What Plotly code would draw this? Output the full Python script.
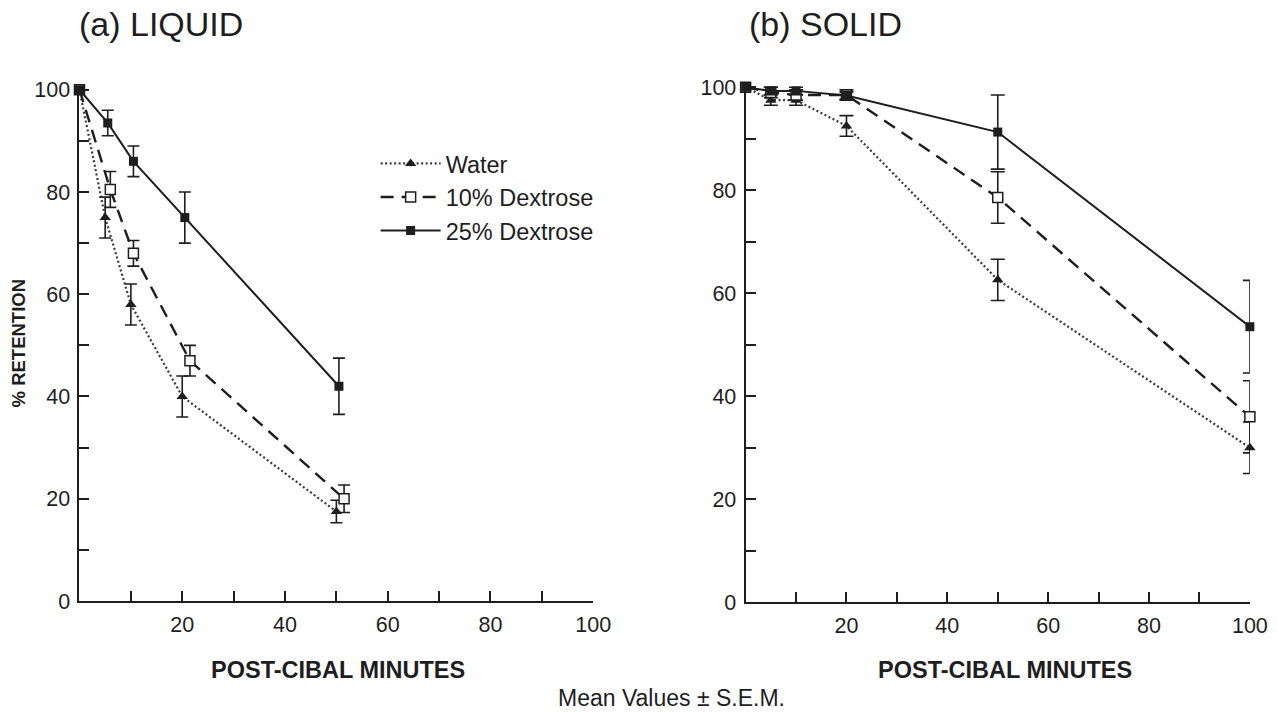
import plotly.graph_objects as go

# ---------------- data ----------------
series_names = ["Water", "10% Dextrose", "25% Dextrose"]

# (a) LIQUID
liq_time_water = [0, 5, 10, 20, 50]
liq_ret_water = [100, 75, 58, 40, 17.5]
liq_sem_water = [None, 4, 4, 4, 2.2]

liq_time_d10 = [0, 6, 10.5, 21.5, 51.5]
liq_ret_d10 = [100, 80.5, 68, 47, 20]
liq_sem_d10 = [None, 3.5, 2.5, 3, 2.7]

liq_time_d25 = [0, 5.5, 10.5, 20.5, 50.5]
liq_ret_d25 = [100, 93.5, 86, 75, 42]
liq_sem_d25 = [None, 2.5, 3, 5, 5.5]

# (b) SOLID
sol_time_water = [0, 5, 10, 20, 50, 100]
sol_ret_water = [100, 97.5, 97.5, 92.5, 62.6, 30]
sol_sem_water = [None, 1, 1, 2, 4, 5]

sol_time_d10 = [0, 5, 10, 20, 50, 100]
sol_ret_d10 = [100, 99, 98.5, 98.5, 78.6, 36]
sol_sem_d10 = [None, 1, 1, 1, 5, 7]

sol_time_d25 = [0, 5, 10, 20, 50, 100]
sol_ret_d25 = [100, 99.3, 99.3, 98.4, 91.3, 53.5]
sol_sem_d25 = [None, 0.7, 0.7, 0.7, 7.2, 9]

x_tick_vals = [20, 40, 60, 80, 100]
y_tick_vals = [0, 20, 40, 60, 80, 100]

# ---------------- layout helpers ----------------
W, H = 1277, 712
SX, BX = 0.986, 0.0   # observed screenshot mapping (horizontal)
SY, BY = 0.975, 7.5   # observed screenshot mapping (vertical)


def px(t):
    """paper x for a target pixel column"""
    return ((t - BX) / SX) / W


def py(t):
    """paper y for a target pixel row (from top)"""
    return 1 - ((t - BY) / SY) / H


# ---------------- styles ----------------
INK = "#1e1e1e"
FONT = "Liberation Sans, Arial, Helvetica, sans-serif"

styles = {
    "Water": dict(line=dict(color="#3a3a3a", width=2.2, dash="2px,2.5px"),
                  marker=dict(symbol="triangle-up", size=10, color=INK,
                              line=dict(color=INK, width=0))),
    "10% Dextrose": dict(line=dict(color=INK, width=2.4, dash="13px,8px"),
                         marker=dict(symbol="square", size=10, color="white",
                                     line=dict(color=INK, width=1.5))),
    "25% Dextrose": dict(line=dict(color=INK, width=2.0),
                         marker=dict(symbol="square", size=9, color=INK,
                                     line=dict(color=INK, width=0))),
}

fig = go.Figure()


def add_series(name, xs, ys, sems, xa, ya, show, capw):
    # error bars first (markers sit on top); points without SEM are skipped
    ex = [x for x, s in zip(xs, sems) if s is not None]
    ey = [y for y, s in zip(ys, sems) if s is not None]
    es = [s for s in sems if s is not None]
    fig.add_trace(go.Scatter(
        x=ex, y=ey, mode="markers", xaxis=xa, yaxis=ya,
        marker=dict(size=1, opacity=0),
        error_y=dict(type="data", array=es, symmetric=True,
                     color=INK, thickness=1.6, width=capw),
        showlegend=False, hoverinfo="skip", cliponaxis=False))
    st = styles[name]
    fig.add_trace(go.Scatter(
        x=xs, y=ys, mode="lines+markers", name=name, xaxis=xa, yaxis=ya,
        line=st["line"], marker=st["marker"], showlegend=show,
        legendgroup=name, cliponaxis=False))


liq = [(liq_time_water, liq_ret_water, liq_sem_water),
       (liq_time_d10, liq_ret_d10, liq_sem_d10),
       (liq_time_d25, liq_ret_d25, liq_sem_d25)]
sol = [(sol_time_water, sol_ret_water, sol_sem_water),
       (sol_time_d10, sol_ret_d10, sol_sem_d10),
       (sol_time_d25, sol_ret_d25, sol_sem_d25)]

for name, (xs, ys, ss) in zip(series_names, liq):
    add_series(name, xs, ys, ss, "x", "y", True, 6)
for name, (xs, ys, ss) in zip(series_names, sol):
    add_series(name, xs, ys, ss, "x2", "y2", False, 7)

axis_common = dict(
    showgrid=False, zeroline=False, showline=True, linecolor=INK, linewidth=2,
    ticks="inside", ticklen=10, tickwidth=1.6, tickcolor=INK,
    tickfont=dict(family=FONT, size=21.5, color=INK),
)

xcommon = dict(axis_common, range=[0, 100], tickmode="array",
               tickvals=x_tick_vals, ticklabelstandoff=3,
               minor=dict(ticks="inside", dtick=10, tick0=0, ticklen=10,
                          tickwidth=1.6, tickcolor=INK))
ycommon = dict(axis_common, range=[0, 100.8], tickmode="array",
               tickvals=y_tick_vals, ticklabelstandoff=3,
               minor=dict(ticks="inside", dtick=10, tick0=0, ticklen=10,
                          tickwidth=1.6, tickcolor=INK))

fig.update_layout(
    width=W, height=H,
    margin=dict(l=0, r=0, t=0, b=0, pad=0),
    paper_bgcolor="white", plot_bgcolor="white",
    font=dict(family=FONT, color=INK),
    xaxis=dict(xcommon, domain=[px(79.5), px(593.3)], anchor="y"),
    yaxis=dict(ycommon, domain=[py(603.4), py(86.4)], anchor="x"),
    xaxis2=dict(xcommon, domain=[px(745.7), px(1250)], anchor="y2"),
    yaxis2=dict(ycommon, domain=[py(604.6), py(83.9)], anchor="x2"),
    showlegend=True,
    legend=dict(x=381 / W, y=1 - 138.5 / H, xanchor="left", yanchor="top",
                font=dict(family=FONT, size=23.5, color=INK),
                itemwidth=60, tracegroupgap=9, bgcolor="rgba(0,0,0,0)",
                traceorder="normal"),
)

annotations = [
    dict(text="(a) LIQUID", x=78 / W, y=py(25), xanchor="left",
         yanchor="middle", font=dict(size=34)),
    dict(text="(b) SOLID", x=757.6 / W, y=py(25), xanchor="left",
         yanchor="middle", font=dict(size=34)),
    dict(text="<b>POST-CIBAL MINUTES</b>", x=px(338), y=py(673),
         xanchor="center", yanchor="middle", font=dict(size=23.5)),
    dict(text="<b>POST-CIBAL MINUTES</b>", x=px(1005), y=py(673),
         xanchor="center", yanchor="middle", font=dict(size=23.5)),
    dict(text="<b>% RETENTION</b>", x=px(18), y=py(345),
         xanchor="center", yanchor="middle", textangle=-90,
         font=dict(size=18.5)),
    dict(text="Mean Values ± S.E.M.", x=px(672), y=py(701),
         xanchor="center", yanchor="middle", font=dict(size=23)),
]
for a in annotations:
    a.update(xref="paper", yref="paper", showarrow=False)
    a["font"] = dict(a["font"], family=FONT, color=INK)
fig.update_layout(annotations=annotations)

fig.write_html(
    "out.html",
    include_plotlyjs=True,
    config={"displayModeBar": False},
    post_script="document.body.style.margin='0';"
                "document.body.style.overflow='hidden';",
)
